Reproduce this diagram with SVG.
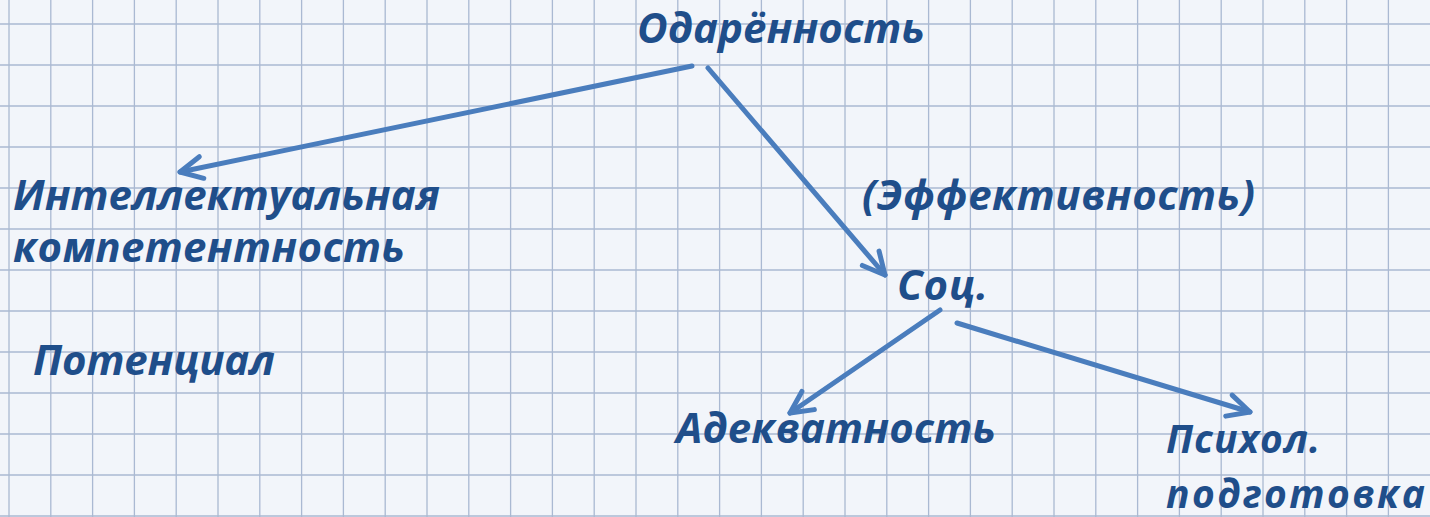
<svg xmlns="http://www.w3.org/2000/svg" width="1430" height="517" viewBox="0 0 1430 517">
<style>
.grid{stroke:#aab9d2;stroke-width:1.3;fill:none}
.lbl{font-family:"Open Sans","Noto Sans",sans-serif;font-style:italic;font-weight:bold;font-size:42px;fill:#1f4e8a}
.sm{font-size:39px}
.edge{stroke:#4a7dbd;stroke-width:5;fill:none;stroke-linecap:round}
</style>
<defs>
<marker id="ah" markerUnits="userSpaceOnUse" markerWidth="40" markerHeight="40" viewBox="-30 -20 40 40" refX="0" refY="0" orient="auto">
<path d="M-22,-11 L0,0 L-22,11" stroke="#4a7dbd" stroke-width="5" fill="none" stroke-linecap="round" stroke-linejoin="round"/>
</marker>
</defs>
<rect width="1430" height="517" fill="#f2f5fa"/>
<path class="grid" d="M9,0V517M50.8,0V517M92.6,0V517M134.4,0V517M176.2,0V517M218,0V517M259.8,0V517M301.6,0V517M343.4,0V517M385.2,0V517M427,0V517M468.8,0V517M510.6,0V517M552.4,0V517M594.2,0V517M636,0V517M677.8,0V517M719.6,0V517M761.4,0V517M803.2,0V517M845,0V517M886.8,0V517M928.6,0V517M970.4,0V517M1012.2,0V517M1054,0V517M1095.8,0V517M1137.6,0V517M1179.4,0V517M1221.2,0V517M1263,0V517M1304.8,0V517M1346.6,0V517M1388.4,0V517M0,24H1430M0,65H1430M0,106H1430M0,147H1430M0,188H1430M0,229H1430M0,270H1430M0,311H1430M0,352H1430M0,393H1430M0,434H1430M0,475H1430M0,516H1430"/>
<g id="connectors">
<line class="edge" x1="692" y1="66" x2="180" y2="172" marker-end="url(#ah)"/>
<line class="edge" x1="708" y1="68" x2="885" y2="275" marker-end="url(#ah)"/>
<line class="edge" x1="940" y1="310" x2="790" y2="413" marker-end="url(#ah)"/>
<line class="edge" x1="957" y1="323" x2="1250" y2="412" marker-end="url(#ah)"/>
</g>
<g id="n-odarennost"><text class="lbl" x="637" y="43" textLength="288">Одарённость</text></g>
<g id="n-intellekt"><text class="lbl" x="13" y="210" textLength="427">Интеллектуальная</text><text class="lbl" x="13" y="262" textLength="392">компетентность</text></g>
<g id="n-potencial"><text class="lbl" x="33" y="375" textLength="242">Потенциал</text></g>
<g id="n-effekt"><text class="lbl" x="862" y="210" textLength="393">(Эффективность)</text></g>
<g id="n-soc"><text class="lbl" x="897" y="300" textLength="91">Соц.</text></g>
<g id="n-adekvat"><text class="lbl" x="676" y="443" textLength="320">Адекватность</text></g>
<g id="n-psihol"><text class="lbl sm" x="1166" y="453" textLength="154">Психол.</text><text class="lbl sm" x="1166" y="508" textLength="259">подготовка</text></g>
</svg>
